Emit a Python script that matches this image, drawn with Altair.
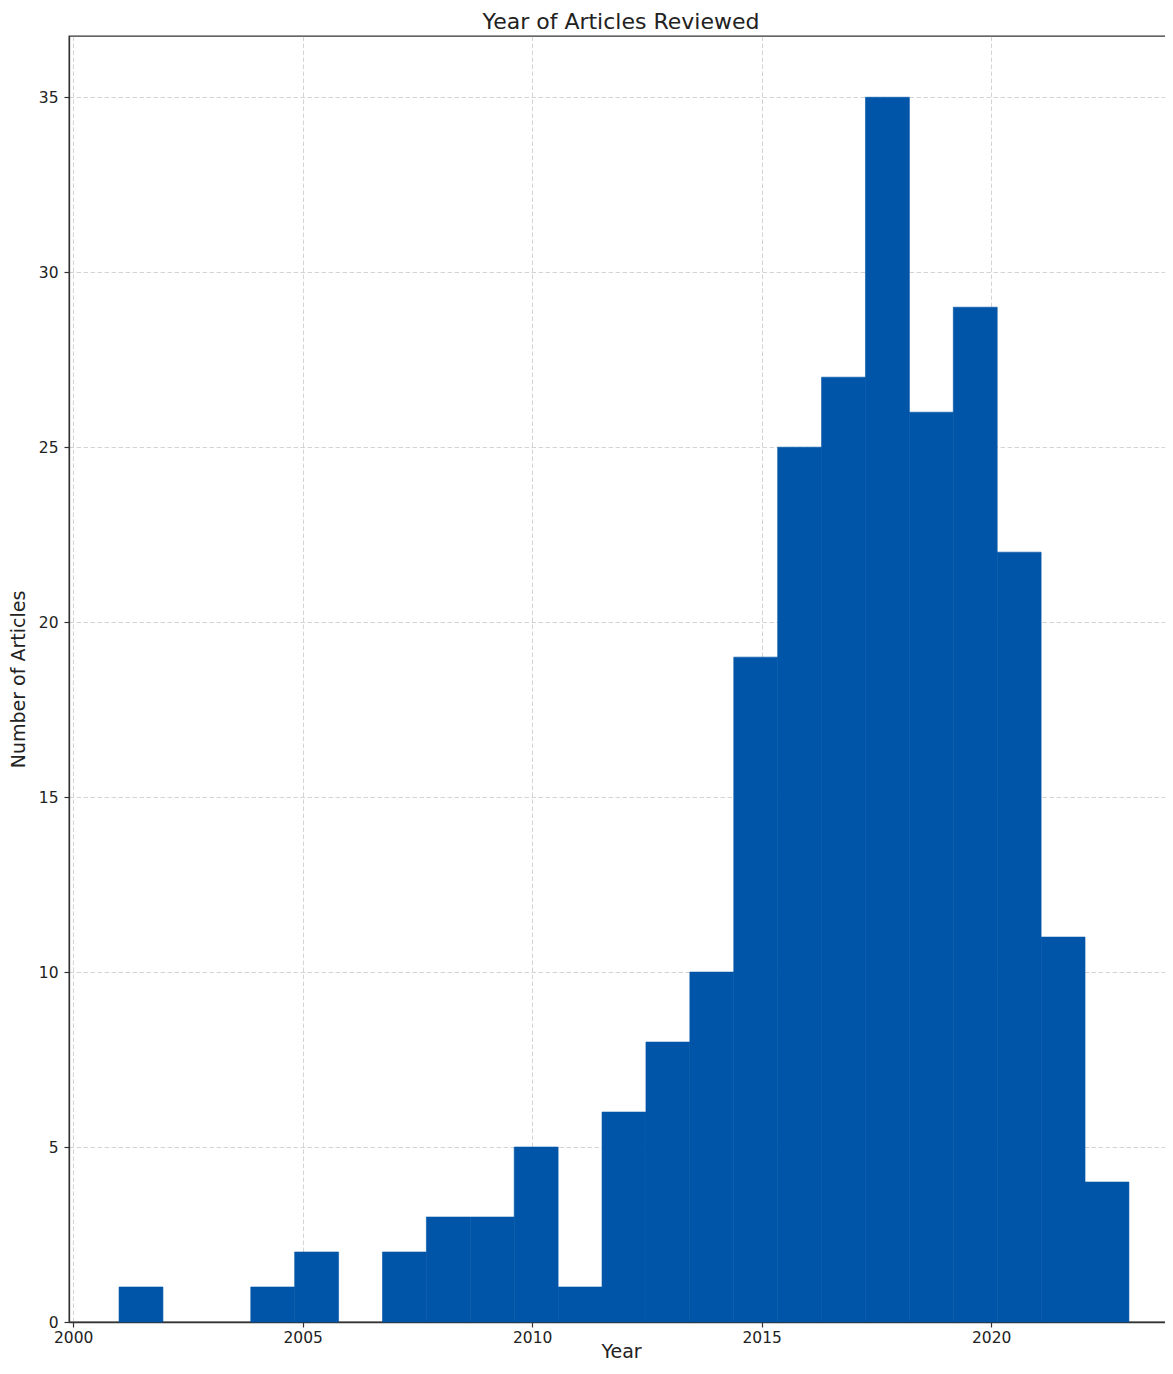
import altair as alt
import pandas as pd

# Histogram counts (23 equal bins spanning 2001..2023)
counts = [1, 0, 0, 1, 2, 0, 2, 3, 3, 5, 1, 6, 8, 10, 19, 25, 27, 35, 26, 29, 22, 11, 4]
first_edge = 2001.0
last_edge = 2023.0
x_ticks = [2000, 2005, 2010, 2015, 2020]
y_ticks = [0, 5, 10, 15, 20, 25, 30, 35]

n_bins = len(counts)
bw = (last_edge - first_edge) / n_bins
df = pd.DataFrame({
    "start": [first_edge + i * bw for i in range(n_bins)],
    "end": [first_edge + (i + 1) * bw for i in range(n_bins)],
    "count": counts,
})
df = df[df["count"] > 0]

FONT = "DejaVu Sans"

bars = alt.Chart(df).mark_rect(color="#0055A8", stroke="#0055A8", strokeWidth=0.6).encode(
    x=alt.X("start:Q",
            scale=alt.Scale(domain=[1999.91, 2023.96], nice=False, zero=False),
            axis=alt.Axis(values=x_ticks, format="d", title="Year",
                          labelPadding=3, titlePadding=-3)),
    x2="end:Q",
    y=alt.Y("count:Q",
            scale=alt.Scale(domain=[0, 36.75], nice=False),
            axis=alt.Axis(values=y_ticks, format="d", title="Number of Articles",
                          labelPadding=6, titlePadding=10)),
    y2=alt.datum(0),
)

chart = bars.properties(
    width=1104,
    height=1286,
    autosize=alt.AutoSizeParams(type="none"),
    padding={"left": 61, "top": 28, "right": -8, "bottom": 40},
    title=alt.TitleParams("Year of Articles Reviewed", fontSize=22, font=FONT,
                          fontWeight="normal", anchor="middle", offset=2.5, color="#222"),
).configure_axis(
    grid=True,
    gridColor="#a0a0a0",
    gridOpacity=0.45,
    gridDash=[4.5, 2.5],
    gridWidth=1,
    zindex=1,
    domainColor="#333",
    domainWidth=1.3,
    tickColor="#333",
    tickSize=5,
    tickWidth=1.2,
    labelFont=FONT,
    labelFontSize=15.5,
    labelColor="#222",
    titleFont=FONT,
    titleFontSize=19,
    titleFontWeight="normal",
    titleColor="#222",
).configure_view(
    stroke="#333",
    strokeWidth=1.3,
)

chart.save("out.html", embed_options={"renderer": "svg", "actions": False})
